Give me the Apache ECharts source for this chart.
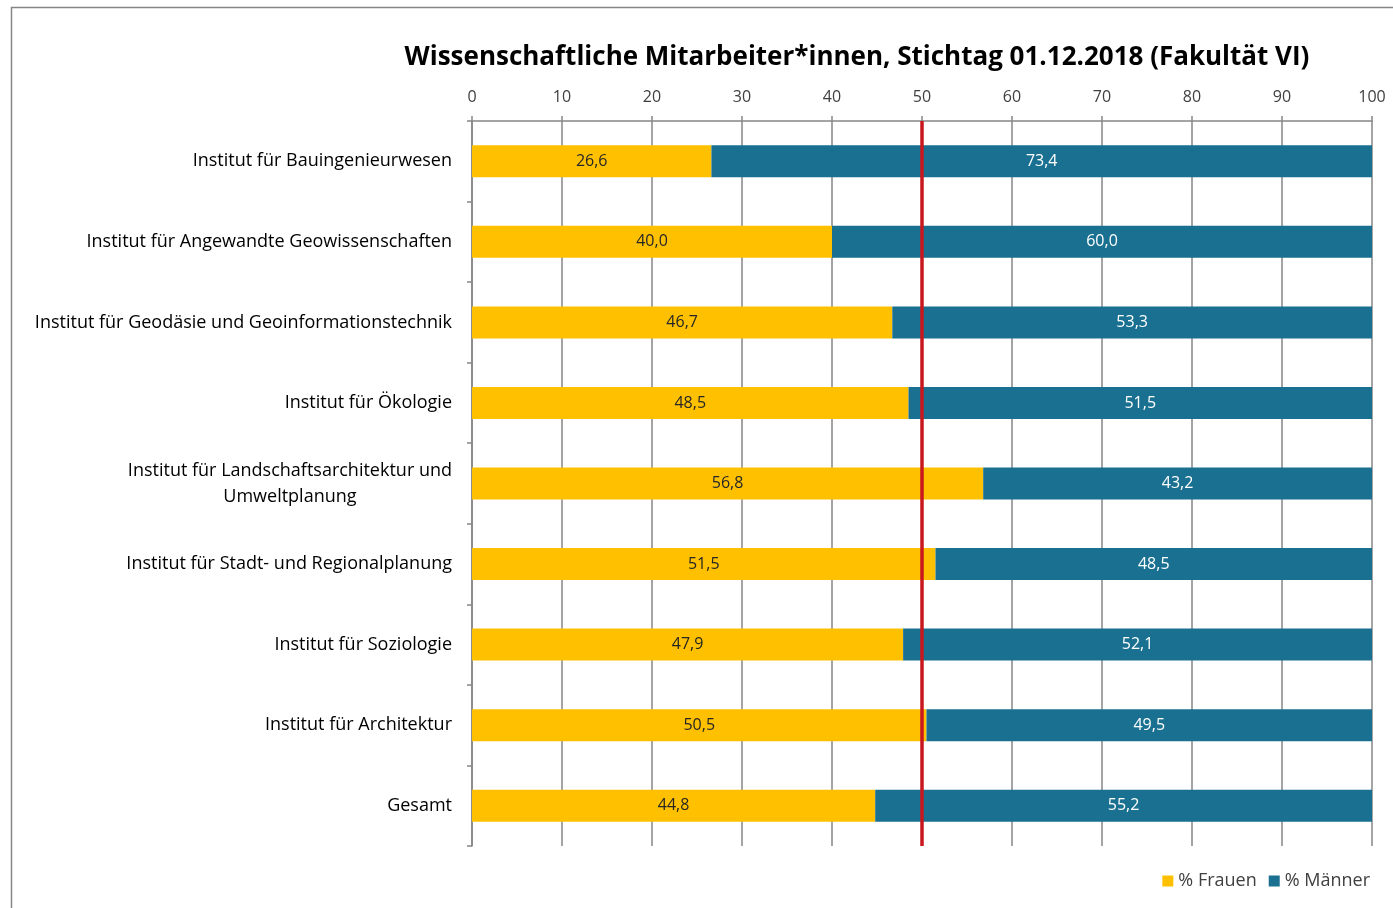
<!DOCTYPE html>
<html>
<head>
<meta charset="utf-8">
<script src="https://cdn.jsdelivr.net/npm/echarts@6/dist/echarts.min.js"></script>
<style>
  html, body { margin: 0; padding: 0; background: #fff; }
  #chart { width: 1393px; height: 908px; }
</style>
</head>
<body>
<div id="chart"></div>
<script>
const categories = [
  'Institut für Bauingenieurwesen',
  'Institut für Angewandte Geowissenschaften',
  'Institut für Geodäsie und Geoinformationstechnik',
  'Institut für Ökologie',
  'Institut für Landschaftsarchitektur und\nUmweltplanung',
  'Institut für Stadt- und Regionalplanung',
  'Institut für Soziologie',
  'Institut für Architektur',
  'Gesamt'
];
const frauen = [26.6, 40.0, 46.7, 48.5, 56.8, 51.5, 47.9, 50.5, 44.8];
const maenner = [73.4, 60.0, 53.3, 51.5, 43.2, 48.5, 52.1, 49.5, 55.2];
const referenceLine = 50;

const font = '"Open Sans", sans-serif';
const fmt = v => v.toFixed(1).replace('.', ',');

const chart = echarts.init(document.getElementById('chart'));
chart.setOption({
  backgroundColor: '#fff',
  textStyle: { fontFamily: font },
  title: {
    text: 'Wissenschaftliche Mitarbeiter*innen, Stichtag 01.12.2018 (Fakultät VI)',
    left: 852, top: 40, textAlign: 'center',
    textStyle: { fontFamily: font, fontSize: 26, fontWeight: 'bold', color: '#000' }
  },
  graphic: [{
    type: 'rect', silent: true,
    shape: { x: 11.5, y: 7.5, width: 1400, height: 920 },
    style: { fill: 'none', stroke: '#868686', lineWidth: 1.5 }
  }],
  legend: {
    right: 18, bottom: 13,
    icon: 'rect', itemWidth: 11, itemHeight: 11, itemGap: 12,
    textStyle: { fontFamily: font, fontSize: 18, color: '#404040' },
    data: ['% Frauen', '% Männer']
  },
  grid: { left: 472, right: 21, top: 121, bottom: 62, containLabel: false },
  xAxis: {
    type: 'value', position: 'top', min: 0, max: 100, interval: 10,
    axisLine: { show: true, lineStyle: { color: '#868686', width: 1.5 } },
    axisTick: { show: true, length: 5, lineStyle: { color: '#868686', width: 1.5 } },
    axisLabel: { fontFamily: font, fontSize: 16, color: '#404040', margin: 16 },
    splitLine: { show: true, lineStyle: { color: '#868686', width: 1.5 } }
  },
  yAxis: {
    type: 'category', inverse: true, data: categories,
    axisLine: { show: true, lineStyle: { color: '#868686', width: 1.5 } },
    axisTick: { show: true, length: 5, lineStyle: { color: '#868686', width: 1.5 } },
    axisLabel: {
      margin: 20, fontFamily: font, fontSize: 18, color: '#000', lineHeight: 26,
      formatter: v => v.split('\n').map(s => '{c|' + s + '}').join('\n'),
      rich: { c: { align: 'center', fontFamily: font, fontSize: 18, color: '#000', lineHeight: 26 } }
    }
  },
  series: [
    {
      name: '% Frauen', type: 'bar', stack: 'a', data: frauen, barWidth: 32,
      itemStyle: { color: '#FFC000' },
      label: { show: true, position: 'inside', formatter: p => fmt(p.value),
        fontFamily: font, fontSize: 16, color: '#262626' },
      markLine: {
        silent: true, symbol: 'none', z: 10,
        data: [{ xAxis: referenceLine }],
        lineStyle: { color: '#C9171E', width: 3.5, type: 'solid' },
        label: { show: false }
      }
    },
    {
      name: '% Männer', type: 'bar', stack: 'a', data: maenner, barWidth: 32,
      itemStyle: { color: '#1A7091' },
      label: { show: true, position: 'inside', formatter: p => fmt(p.value),
        fontFamily: font, fontSize: 16, color: '#fff' }
    }
  ]
});
</script>
</body>
</html>
